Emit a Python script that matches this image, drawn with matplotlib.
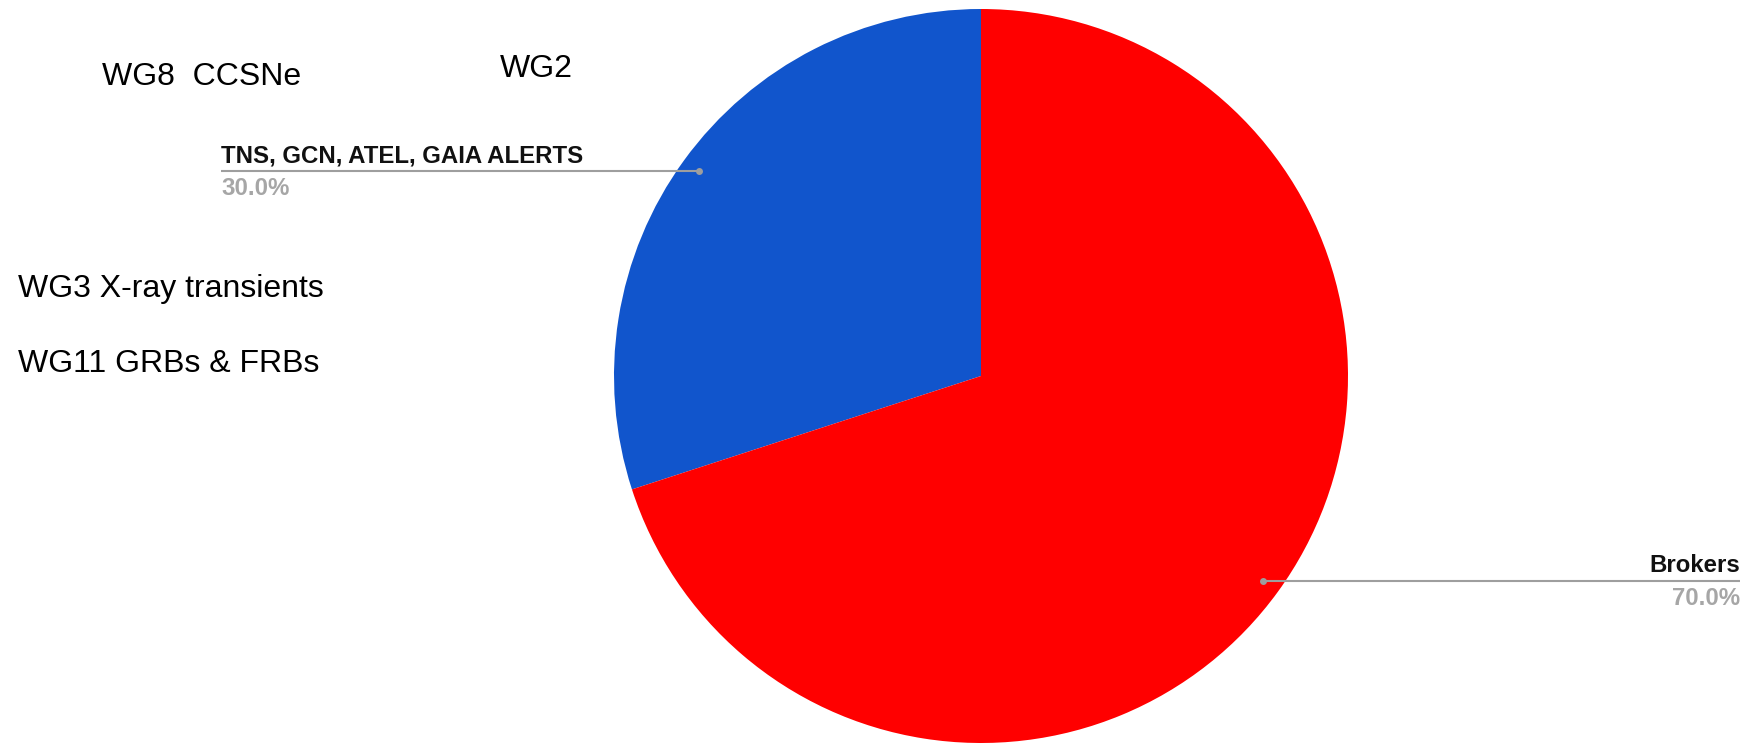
import numpy as np
import matplotlib
matplotlib.use("Agg")
import matplotlib.pyplot as plt

# data
sources = ['TNS, GCN, ATEL, GAIA ALERTS', 'Brokers']
shares = [30.0, 70.0]
slice_colors = ['#1155cc', '#ff0000']
side_notes = ['WG8  CCSNe', 'WG2', 'WG3 X-ray transients', 'WG11 GRBs & FRBs']

W, H = 1746, 746
fig = plt.figure(figsize=(W / 100, H / 100), dpi=100)
ax = fig.add_axes([0, 0, 1, 1])

cx, cy, R = 981, H - 376, 367
wedges, _ = ax.pie(shares, colors=slice_colors, startangle=90, counterclock=True,
                   center=(cx, cy), radius=R, frame=True,
                   wedgeprops=dict(linewidth=0))
ax.set_xlim(0, W)
ax.set_ylim(0, H)
ax.set_aspect('equal')
ax.axis('off')

total = sum(shares)
line_ends = [221, 1740]
gray = '#9e9e9e'
for w, name, v, x_end in zip(wedges, sources, shares, line_ends):
    ang = np.deg2rad((w.theta1 + w.theta2) / 2)
    px = cx + 0.95 * R * np.cos(ang)
    py = cy + 0.95 * R * np.sin(ang)
    ax.plot([px, x_end], [py, py], color=gray, lw=1.5, solid_capstyle='butt')
    ax.plot(px, py, 'o', color=gray, ms=5, mec='none')
    ha = 'left' if x_end < px else 'right'
    ax.text(x_end, py + 9, name, ha=ha, va='baseline', fontsize=17.3,
            fontweight='bold', family='Liberation Sans', color='#111111')
    ax.text(x_end, py - 24, f'{v / total * 100:.1f}%', ha=ha, va='baseline',
            fontsize=17.3, fontweight='bold', family='Liberation Sans', color='#a6a6a6')

# free text notes
note_pos = [(102, 85), (500, 77), (18, 297), (18, 372)]
for txt, (x, y) in zip(side_notes, note_pos):
    ax.text(x, H - y, txt, ha='left', va='baseline', fontsize=23,
            family='Liberation Sans', color='black')

fig.savefig('out.png', dpi=100)
